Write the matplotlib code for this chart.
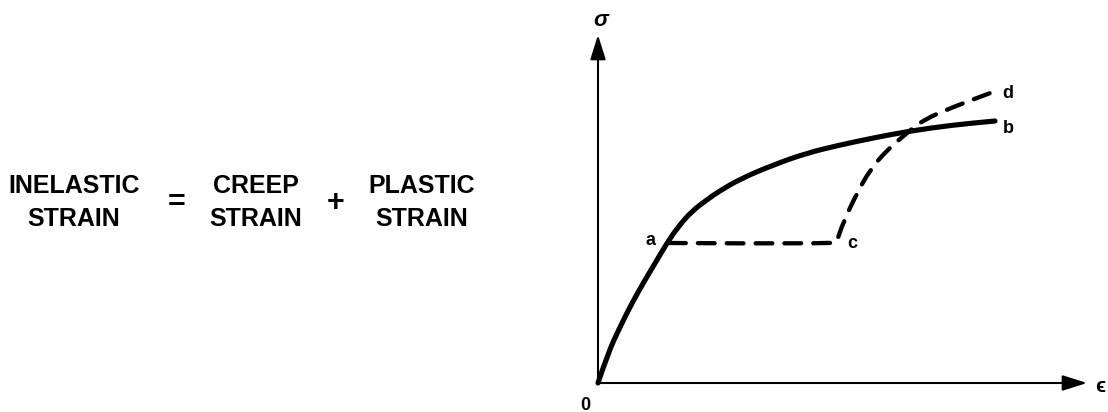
import matplotlib
matplotlib.use('Agg')
import matplotlib.pyplot as plt
from matplotlib.path import Path
from matplotlib.patches import PathPatch

plt.rcParams['font.family'] = ['Liberation Sans', 'DejaVu Sans']

# solid stress-strain curve 0 -> a -> b
strain_ab = [0.00, 0.10, 0.22, 0.34, 0.47, 0.59, 0.69, 0.80, 0.94, 1.10, 1.20,
             1.42, 1.75, 2.09, 2.42, 2.75, 3.12, 3.55, 3.97]
stress_ab = [0.00, 0.30, 0.56, 0.80, 1.03, 1.23, 1.40, 1.56, 1.72, 1.84, 1.91,
             2.04, 2.18, 2.30, 2.38, 2.45, 2.52, 2.58, 2.62]
idx_a = 6

# dashed path a -> c (creep at constant stress) -> d
strain_acd = [0.71, 2.37, 2.39, 2.45, 2.59, 2.72, 2.89, 3.09, 3.25, 3.55, 3.95]
stress_acd = [1.40, 1.39, 1.42, 1.60, 1.90, 2.13, 2.33, 2.50, 2.63, 2.76, 2.91]
idx_c = 1

axis_len_x = 4.89
axis_len_y = 3.48

left_top = ['INELASTIC', 'CREEP', 'PLASTIC']
left_bottom = ['STRAIN', 'STRAIN', 'STRAIN']
operators = ['=', '+']


def smooth_path(xs, ys):
    """quadratic bezier through the read points so the curve has no kinks"""
    verts = [(xs[0], ys[0])]
    codes = [Path.MOVETO]
    for i in range(1, len(xs) - 1):
        verts.append((xs[i], ys[i]))
        verts.append(((xs[i] + xs[i + 1]) / 2, (ys[i] + ys[i + 1]) / 2))
        codes += [Path.CURVE3, Path.CURVE3]
    verts.append((xs[-1], ys[-1]))
    codes.append(Path.LINETO)
    return Path(verts, codes)


fig = plt.figure(figsize=(11.08, 4.12), dpi=100)
ax = fig.add_axes([0, 0, 1, 1])
ax.set_xlim(-5.98, 5.10)
ax.set_ylim(-0.29, 3.83)
ax.axis('off')

# axes with arrows
arrow = dict(arrowstyle='-|>,head_length=0.6,head_width=0.19', lw=1.5,
             color='black', mutation_scale=25, shrinkA=0, shrinkB=0)
ax.annotate('', xy=(axis_len_x, 0), xytext=(-0.01, 0), arrowprops=arrow)
ax.annotate('', xy=(0, axis_len_y), xytext=(0, -0.01), arrowprops=arrow)

solid = PathPatch(smooth_path(strain_ab, stress_ab), fill=False, color='black',
                  lw=3.7, capstyle='round', joinstyle='round')
ax.add_patch(solid)
dashed = PathPatch(smooth_path(strain_acd, stress_acd), fill=False, color='black',
                   lw=3.1, linestyle=(0, (3.9, 2.8)), capstyle='round',
                   joinstyle='round')
ax.add_patch(dashed)

# point labels
lbl = dict(fontsize=13, fontweight='bold', ha='center', va='baseline')
ax.text(strain_ab[idx_a] - 0.17, stress_ab[idx_a] - 0.02, 'a', **lbl)
ax.text(strain_ab[-1] + 0.13, stress_ab[-1] - 0.12, 'b', **lbl)
ax.text(strain_acd[idx_c] + 0.17, stress_acd[idx_c] - 0.04, 'c', **lbl)
ax.text(strain_acd[-1] + 0.15, stress_acd[-1] - 0.06, 'd', **lbl)

ax.text(0.03, 3.62, 'σ', fontsize=16, fontweight='bold', style='italic',
        ha='center', va='center')
ax.text(5.02, -0.03, 'ϵ', fontsize=15, fontweight='bold', ha='center', va='center')
ax.text(-0.13, -0.14, '0', fontsize=13, fontweight='bold', ha='center', va='top')

# equation on the left
word_x = [-5.24, -3.42, -1.76]
for x, top, bottom in zip(word_x, left_top, left_bottom):
    ax.text(x, 1.90, top, fontsize=18, fontweight='bold', ha='center', va='baseline')
    ax.text(x, 1.57, bottom, fontsize=18, fontweight='bold', ha='center', va='baseline')

op_x = [-4.21, -2.62]
for x, op in zip(op_x, operators):
    ax.text(x, 1.80, op, fontsize=22, fontweight='bold', ha='center', va='center')

fig.savefig('out.png', dpi=100)
